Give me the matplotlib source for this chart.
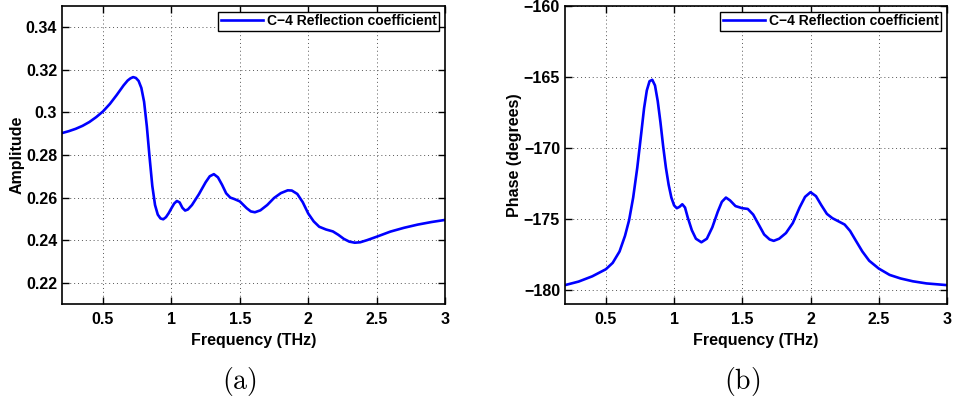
import matplotlib
matplotlib.use('Agg')
import matplotlib.pyplot as plt

plt.rcParams['font.family'] = ['Liberation Sans', 'DejaVu Sans']
plt.rcParams['font.weight'] = 'bold'
plt.rcParams['mathtext.fontset'] = 'cm'

# amplitude of reflection coefficient (a)
amp_freq = [0.2, 0.25, 0.3, 0.35, 0.4, 0.45, 0.5, 0.55, 0.6, 0.65, 0.68, 0.7, 0.72,
            0.74, 0.76, 0.78, 0.8, 0.82, 0.84, 0.86, 0.88, 0.9, 0.92, 0.94, 0.96,
            0.98, 1.0, 1.02, 1.04, 1.06, 1.08, 1.1, 1.12, 1.15, 1.2, 1.25, 1.28,
            1.31, 1.34, 1.37, 1.4, 1.43, 1.46, 1.5, 1.55, 1.58, 1.61, 1.65, 1.7,
            1.75, 1.8, 1.85, 1.88, 1.92, 1.96, 2.0, 2.04, 2.08, 2.13, 2.18, 2.22,
            2.26, 2.3, 2.34, 2.38, 2.43, 2.5, 2.6, 2.7, 2.8, 2.9, 3.0]
amp_vals = [0.2903, 0.2912, 0.2923, 0.2937, 0.2955, 0.2978, 0.3005, 0.3040, 0.3082,
            0.3127, 0.3150, 0.3160, 0.3166, 0.3162, 0.3148, 0.3115, 0.3050, 0.2935,
            0.2790, 0.2655, 0.2565, 0.2520, 0.2502, 0.2498, 0.2508, 0.2527, 0.2550,
            0.2572, 0.2584, 0.2577, 0.2552, 0.2539, 0.2544, 0.2565, 0.2615, 0.2672,
            0.2700, 0.2710, 0.2695, 0.2660, 0.2620, 0.2600, 0.2593, 0.2582, 0.2550,
            0.2535, 0.2531, 0.2540, 0.2565, 0.2598, 0.2621, 0.2634, 0.2633, 0.2617,
            0.2578, 0.2525, 0.2488, 0.2463, 0.2450, 0.2441, 0.2425, 0.2406, 0.2393,
            0.2388, 0.2390, 0.2400, 0.2416, 0.2440, 0.2458, 0.2473, 0.2485, 0.2495]

# phase of reflection coefficient (b)
ph_freq = [0.2, 0.3, 0.4, 0.5, 0.55, 0.6, 0.64, 0.67, 0.7, 0.73, 0.76, 0.78, 0.8,
           0.82, 0.84, 0.86, 0.88, 0.9, 0.92, 0.94, 0.96, 0.98, 1.0, 1.02, 1.04,
           1.06, 1.08, 1.1, 1.13, 1.16, 1.2, 1.24, 1.28, 1.32, 1.35, 1.38, 1.41,
           1.45, 1.5, 1.54, 1.58, 1.62, 1.66, 1.7, 1.73, 1.77, 1.82, 1.87, 1.92,
           1.96, 2.0, 2.04, 2.08, 2.12, 2.16, 2.2, 2.25, 2.29, 2.33, 2.38, 2.43,
           2.5, 2.58, 2.66, 2.75, 2.85, 3.0]
ph_vals = [-179.67, -179.42, -179.05, -178.55, -178.1, -177.3, -176.2, -175.1, -173.5,
           -171.4, -168.9, -167.2, -165.95, -165.3, -165.2, -165.6, -166.7, -168.2,
           -169.9, -171.4, -172.6, -173.5, -174.05, -174.25, -174.15, -173.97, -174.2,
           -174.9, -175.8, -176.4, -176.65, -176.4, -175.6, -174.5, -173.8, -173.5,
           -173.7, -174.1, -174.25, -174.3, -174.7, -175.4, -176.1, -176.45, -176.55,
           -176.4, -176.0, -175.3, -174.2, -173.45, -173.12, -173.4, -174.05, -174.65,
           -174.95, -175.15, -175.4, -175.85, -176.5, -177.3, -177.95, -178.5, -178.95,
           -179.2, -179.4, -179.55, -179.67]

legend_label = 'C\u22124 Reflection coefficient'

fig = plt.figure(figsize=(9.54, 4.0), dpi=100)
ax1 = fig.add_axes([0.065, 0.24, 0.4015, 0.745])
ax2 = fig.add_axes([0.5922, 0.24, 0.4004, 0.745])


def style_axes(ax):
    ax.grid(True, linestyle=(0, (1, 3)), color='#555555', linewidth=0.7)
    ax.tick_params(direction='in', top=True, right=True, labelsize=11.5,
                   length=5, width=1)
    ax.tick_params(axis='x', pad=6)
    for sp in ax.spines.values():
        sp.set_linewidth(1.2)
    for lab in ax.get_xticklabels() + ax.get_yticklabels():
        lab.set_fontweight('bold')
    ax.set_xlabel('Frequency (THz)', fontsize=11.5, fontweight='bold', labelpad=4)
    leg = ax.legend(loc='upper right', fancybox=False, edgecolor='black',
                    framealpha=1, borderpad=0.2, borderaxespad=0.4,
                    handlelength=3.0, handletextpad=0.3,
                    prop={'weight': 'bold', 'size': 10})
    leg.get_frame().set_linewidth(1.0)


ax1.plot(amp_freq, amp_vals, color='#0000ff', linewidth=1.9, label=legend_label)
ax1.set_xlim(0.2, 3)
ax1.set_ylim(0.21, 0.35)
ax1.set_xticks([0.5, 1, 1.5, 2, 2.5, 3])
ax1.set_xticklabels(['0.5', '1', '1.5', '2', '2.5', '3'])
ax1.set_yticks([0.22, 0.24, 0.26, 0.28, 0.3, 0.32, 0.34])
ax1.set_yticklabels(['0.22', '0.24', '0.26', '0.28', '0.3', '0.32', '0.34'])
ax1.set_ylabel('Amplitude', fontsize=11.5, fontweight='bold', labelpad=1)
style_axes(ax1)

ax2.plot(ph_freq, ph_vals, color='#0000ff', linewidth=1.9, label=legend_label)
ax2.set_xlim(0.2, 3)
ax2.set_ylim(-181, -160)
ax2.set_xticks([0.5, 1, 1.5, 2, 2.5, 3])
ax2.set_xticklabels(['0.5', '1', '1.5', '2', '2.5', '3'])
ax2.set_yticks([-180, -175, -170, -165, -160])
ax2.set_yticklabels(['\u2212180', '\u2212175', '\u2212170', '\u2212165', '\u2212160'])
ax2.set_ylabel('Phase (degrees)', fontsize=11.5, fontweight='bold', labelpad=1)
style_axes(ax2)

fig.text(0.2505, 0.0475, r'$\mathrm{(a)}$', fontsize=20, ha='center', va='center')
fig.text(0.7775, 0.0475, r'$\mathrm{(b)}$', fontsize=20, ha='center', va='center')

fig.savefig('out.png', dpi=100)
